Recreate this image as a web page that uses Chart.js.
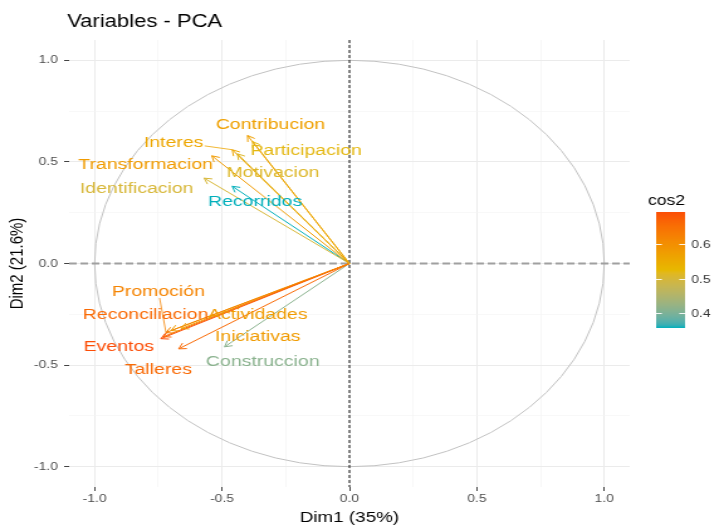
<!DOCTYPE html>
<html><head><meta charset="utf-8">
<script src="https://cdn.jsdelivr.net/npm/chart.js@4/dist/chart.umd.min.js"></script>
<style>
html,body{margin:0;padding:0;background:#fff;overflow:hidden;width:724px;height:527px}
#wrap{width:576px;height:527px;transform:scaleX(1.2569444);transform-origin:0 0;}
canvas{display:block}
</style></head><body>
<div id="wrap"><canvas id="c" width="576" height="527"></canvas></div>
<script>
// ---- data ----
const variables = ['Contribucion','Participacion','Interes','Motivacion','Transformacion','Identificacion','Recorridos',
  'Promoción','Reconciliacion','Eventos','Actividades','Iniciativas','Talleres','Construccion'];
const dim1 = [-0.40,-0.38,-0.46,-0.44,-0.54,-0.57,-0.46,-0.72,-0.73,-0.74,-0.70,-0.66,-0.67,-0.49];
const dim2 = [ 0.63, 0.60, 0.56, 0.54, 0.53, 0.42, 0.38,-0.34,-0.36,-0.37,-0.33,-0.32,-0.42,-0.41];
const cos2 = [ 0.57, 0.52, 0.56, 0.51, 0.58, 0.50, 0.355,0.62, 0.66, 0.695,0.58, 0.58, 0.66, 0.41];
// label anchor positions (data units, as placed by the repel layout)
const labelDim1 = [-0.31,-0.17,-0.69,-0.30,-0.80,-0.835,-0.37,-0.75,-0.80,-0.905,-0.36,-0.36,-0.75,-0.34];
const labelDim2 = [ 0.69, 0.56, 0.60, 0.45, 0.49, 0.375, 0.31,-0.135,-0.245,-0.405,-0.245,-0.355,-0.52,-0.48];
const hasSegment = [false,false,true,false,false,false,false,true,false,false,false,false,false,false];
const tickValues = [-1,-0.75,-0.5,-0.25,0,0.25,0.5,0.75,1];
const legendTicks = [0.4,0.5,0.6];
const cos2Limits = [0.355,0.695];
const gradientColors = ['#00AFBB','#E7B800','#FC4E07'];
const chartTitle = 'Variables - PCA';
const xTitle = 'Dim1 (35%)';
const yTitle = 'Dim2 (21.6%)';
const legendTitle = 'cos2';

const FONT = "'Liberation Sans', Arial, sans-serif";

// ---- colour gradient (Lab interpolation like ggplot) ----
function hexToRgb(h){return [parseInt(h.slice(1,3),16),parseInt(h.slice(3,5),16),parseInt(h.slice(5,7),16)];}
function s2l(c){c/=255;return c<=0.04045?c/12.92:Math.pow((c+0.055)/1.055,2.4);}
function l2s(c){c=c<=0.0031308?12.92*c:1.055*Math.pow(c,1/2.4)-0.055;return Math.round(Math.max(0,Math.min(1,c))*255);}
function rgbToLab(rgb){const [r,g,b]=rgb.map(s2l);
  const X=(0.4124*r+0.3576*g+0.1805*b)/0.95047,Y=0.2126*r+0.7152*g+0.0722*b,Z=(0.0193*r+0.1192*g+0.9505*b)/1.08883;
  const f=t=>t>0.008856?Math.cbrt(t):7.787*t+16/116;const fx=f(X),fy=f(Y),fz=f(Z);
  return [116*fy-16,500*(fx-fy),200*(fy-fz)];}
function labToRgb(l){const fy=(l[0]+16)/116,fx=fy+l[1]/500,fz=fy-l[2]/200;
  const fi=t=>t*t*t>0.008856?t*t*t:(t-16/116)/7.787;
  const X=fi(fx)*0.95047,Y=fi(fy),Z=fi(fz)*1.08883;
  return [l2s(3.2406*X-1.5372*Y-0.4986*Z),l2s(-0.9689*X+1.8758*Y+0.0415*Z),l2s(0.0557*X-0.2040*Y+1.0570*Z)];}
const labStops = gradientColors.map(h=>rgbToLab(hexToRgb(h)));
function colorAt(t){t=Math.max(0,Math.min(1,t));const s=t*(labStops.length-1);const i=Math.min(Math.floor(s),labStops.length-2);const f=s-i;
  const a=labStops[i],b=labStops[i+1];const rgb=labToRgb([a[0]+(b[0]-a[0])*f,a[1]+(b[1]-a[1])*f,a[2]+(b[2]-a[2])*f]);
  return `rgb(${rgb[0]},${rgb[1]},${rgb[2]})`;}
function colorFor(v){return colorAt((v-cos2Limits[0])/(cos2Limits[1]-cos2Limits[0]));}

const isMajor = v => Math.abs(v*2-Math.round(v*2))<1e-6;

const datasets = variables.map((name,i)=>({
  label:name,
  data:[{x:0,y:0},{x:dim1[i],y:dim2[i]}],
  borderColor:colorFor(cos2[i]),
  borderWidth:1,
  pointRadius:0,
  showLine:true,
  fill:false
}));

const overlay = {
  id:'overlay',
  beforeDatasetsDraw(chart){
    const {ctx,chartArea:a,scales:{x,y}}=chart;
    const cx=x.getPixelForValue(0),cy=y.getPixelForValue(0);
    ctx.save();
    ctx.beginPath();
    ctx.ellipse(cx,cy,x.getPixelForValue(1)-cx,cy-y.getPixelForValue(1),0,0,Math.PI*2);
    ctx.strokeStyle='#c2c2c2';ctx.lineWidth=1;ctx.stroke();
    ctx.setLineDash([6,3]);ctx.strokeStyle='#a0a0a0';ctx.lineWidth=2;
    ctx.beginPath();ctx.moveTo(a.left,cy);ctx.lineTo(a.right,cy);ctx.stroke();
    ctx.setLineDash([3,2]);ctx.strokeStyle='#111';ctx.lineWidth=1;
    ctx.beginPath();ctx.moveTo(cx,a.top);ctx.lineTo(cx,a.bottom);ctx.stroke();
    ctx.restore();
  },
  afterDatasetsDraw(chart){
    const {ctx,scales:{x,y}}=chart;
    ctx.save();
    // arrow heads
    chart.data.datasets.forEach((ds,i)=>{
      const pts=chart.getDatasetMeta(i).data;const p0=pts[0],p1=pts[1];
      const ang=Math.atan2(p1.y-p0.y,p1.x-p0.x);const L=6.5;
      ctx.strokeStyle=ds.borderColor;ctx.lineWidth=1;ctx.beginPath();
      ctx.moveTo(p1.x-L*Math.cos(ang-Math.PI/6),p1.y-L*Math.sin(ang-Math.PI/6));
      ctx.lineTo(p1.x,p1.y);
      ctx.lineTo(p1.x-L*Math.cos(ang+Math.PI/6),p1.y-L*Math.sin(ang+Math.PI/6));
      ctx.stroke();
    });
    // labels and repel segments
    ctx.font=`15.5px ${FONT}`;ctx.textAlign='center';ctx.textBaseline='middle';
    variables.forEach((name,i)=>{
      const lx=x.getPixelForValue(labelDim1[i]),ly=y.getPixelForValue(labelDim2[i]);
      const px=x.getPixelForValue(dim1[i]),py=y.getPixelForValue(dim2[i]);
      const col=colorFor(cos2[i]);
      if(hasSegment[i]){
        // segment from label centre toward the point, clipped at the label box
        const w=ctx.measureText(name).width/2+1,h=7;
        const dx=px-lx,dy=py-ly;
        const t=Math.min(Math.abs(dx)>0?w/Math.abs(dx):Infinity,Math.abs(dy)>0?h/Math.abs(dy):Infinity);
        const sx=lx+dx*t,sy=ly+dy*t;
        ctx.strokeStyle=col;ctx.lineWidth=0.8;ctx.beginPath();ctx.moveTo(sx,sy);ctx.lineTo(px,py);ctx.stroke();
      }
      ctx.fillStyle=col;ctx.fillText(name,lx,ly+1);
    });
    ctx.restore();
  },
  afterDraw(chart){
    const {ctx}=chart;
    ctx.save();
    ctx.fillStyle='#000';ctx.font=`17.5px ${FONT}`;ctx.textAlign='left';ctx.textBaseline='middle';
    ctx.fillText(chartTitle,53.5,22);
    // colour bar legend
    const bx=522,bw=23,top=212,bot=328;
    ctx.font=`14px ${FONT}`;ctx.fillStyle='#000';ctx.fillText(legendTitle,515.5,201);
    const g=ctx.createLinearGradient(0,bot,0,top);
    for(let k=0;k<=40;k++)g.addColorStop(k/40,colorAt(k/40));
    ctx.fillStyle=g;ctx.fillRect(bx,top,bw,bot-top);
    const vy=v=>bot-(v-cos2Limits[0])/(cos2Limits[1]-cos2Limits[0])*(bot-top);
    ctx.strokeStyle='rgba(255,255,255,0.9)';ctx.lineWidth=1;
    ctx.font=`11px ${FONT}`;ctx.fillStyle='#333';
    legendTicks.forEach(v=>{const yy=Math.round(vy(v))+0.5;
      ctx.beginPath();ctx.moveTo(bx,yy);ctx.lineTo(bx+bw/5,yy);ctx.moveTo(bx+bw-bw/5,yy);ctx.lineTo(bx+bw,yy);ctx.stroke();
      ctx.fillText(v.toFixed(1),550,yy);});
    ctx.restore();
  }
};

const axisCommon = () => ({
  type:'linear',min:-1.1,max:1.1,
  afterBuildTicks:s=>{s.ticks=tickValues.map(v=>({value:v}));},
  ticks:{callback:v=>isMajor(v)?v.toFixed(1):'',font:{family:FONT,size:11},color:'#4D4D4D',autoSkip:false,maxRotation:0},
  grid:{color:c=>c.tick&&isMajor(c.tick.value)?'#EBEBEB':'#F4F4F4',
        lineWidth:c=>c.tick&&isMajor(c.tick.value)?1:0.6,
        tickColor:c=>c.tick&&isMajor(c.tick.value)?'#444':'rgba(0,0,0,0)',
        tickLength:4,drawTicks:true},
  border:{display:false}
});
const xs=axisCommon();xs.afterFit=s=>{s.height=40;};xs.ticks.padding=1;
xs.title={display:true,text:xTitle,font:{family:FONT,size:15},color:'#000',padding:{top:1,bottom:0}};
const ys=axisCommon();ys.afterFit=s=>{s.width=55;};ys.ticks.padding=5;
ys.title={display:true,text:yTitle,font:{family:FONT,size:15},color:'#000',padding:{top:5,bottom:0}};

new Chart(document.getElementById('c'),{
  type:'scatter',
  data:{datasets},
  options:{responsive:false,animation:false,devicePixelRatio:1,
    layout:{padding:{top:40,right:75,left:0,bottom:0}},
    plugins:{legend:{display:false},tooltip:{enabled:false},title:{display:false}},
    scales:{x:xs,y:ys}},
  plugins:[overlay]
});
</script></body></html>
